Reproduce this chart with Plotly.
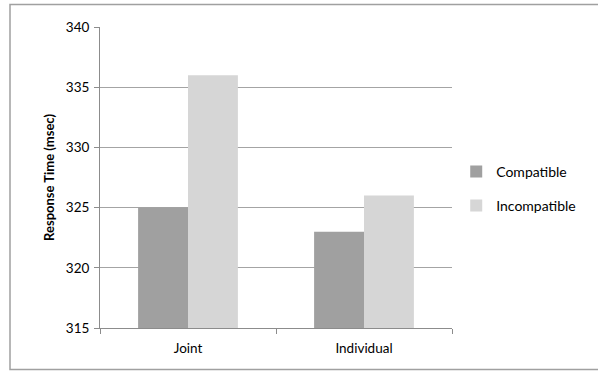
import plotly.graph_objects as go

categories = ["Joint", "Individual"]
compatible = [325, 323]
incompatible = [336, 326]
series_names = ["Compatible", "Incompatible"]
y_ticks = [315, 320, 325, 330, 335, 340]
axis_min = 315

W, H = 598, 371
L, R, T, B = 100, 146, 27, 43

fig = go.Figure()
fig.add_trace(go.Bar(x=categories, y=[v - axis_min for v in compatible], name=series_names[0],
                     base=axis_min, marker=dict(color="#a0a0a0", line=dict(width=0)),
                     legend="legend", showlegend=True))
fig.add_trace(go.Bar(x=categories, y=[v - axis_min for v in incompatible], name=series_names[1],
                     base=axis_min, marker=dict(color="#d6d6d6", line=dict(width=0)),
                     legend="legend2", showlegend=True))

font = dict(family="Lato, 'Open Sans', sans-serif", size=13, color="#000000")

ph = H - T - B
fig.update_layout(
    width=W, height=H,
    margin=dict(l=L, r=R, t=T, b=B),
    paper_bgcolor="white", plot_bgcolor="white",
    font=font,
    showlegend=True,
    barmode="group", bargap=0.433, bargroupgap=0,
    legend=dict(x=1.012, y=1 - (172 - T) / ph, yanchor="middle", xanchor="left",
                font=dict(size=14), bgcolor="rgba(0,0,0,0)", itemwidth=30),
    legend2=dict(x=1.012, y=1 - (206 - T) / ph, yanchor="middle", xanchor="left",
                 font=dict(size=14), bgcolor="rgba(0,0,0,0)", itemwidth=30, visible=True),
    xaxis=dict(type="category", showline=True, linecolor="#8c8c8c", linewidth=1,
               ticks="outside", ticklen=5, tickcolor="#8c8c8c", tickson="boundaries",
               showgrid=False, tickfont=dict(size=13.5), ticklabelstandoff=8),
    yaxis=dict(range=[axis_min, 340], tickvals=y_ticks, showline=True, linecolor="#8c8c8c",
               linewidth=1, ticks="outside", ticklen=5, tickcolor="#8c8c8c",
               showgrid=True, gridcolor="#a4a4a4", gridwidth=1, zeroline=False,
               tickfont=dict(size=13.5), ticklabelstandoff=2,
               title=dict(text="<b>Response Time (msec)</b>", font=dict(size=13), standoff=8)),
    shapes=[
        dict(type="rect", xref="paper", yref="paper",
             x0=(10 - L) / (W - L - R), x1=(620 - L) / (W - L - R),
             y0=1 - (369.5 - T) / ph, y1=1 - (4.5 - T) / ph,
             line=dict(color="#a0a0a0", width=1.5), fillcolor="rgba(0,0,0,0)", layer="below"),
    ],
)

fig.write_html("out.html")
